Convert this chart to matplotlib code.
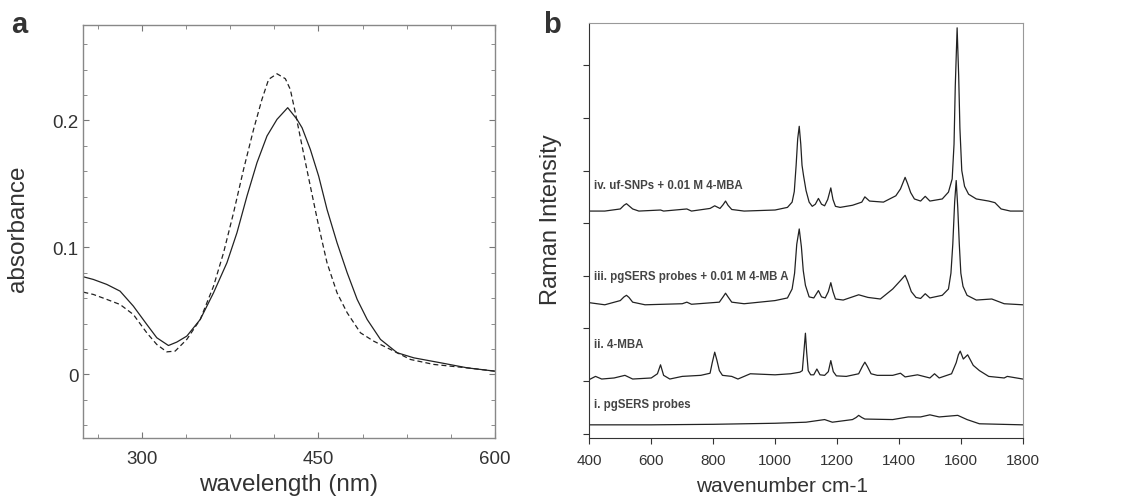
import numpy as np
import matplotlib.pyplot as plt
from matplotlib.ticker import MultipleLocator

plt.rcParams['font.family'] = ['Liberation Sans', 'DejaVu Sans']

# ---- panel a: UV-vis absorbance ----
wl_solid = [250.3, 258.8, 270.2, 281.5, 292.8, 304.2, 312.7, 322.6, 329.7, 338.2, 349.6,
            360.9, 372.3, 380.8, 389.3, 397.8, 406.3, 414.8, 423.9, 431.8, 436.1, 443.1,
            450.2, 457.3, 465.8, 474.4, 482.9, 491.4, 502.7, 516.9, 531, 553.8, 576.5, 600]
abs_solid = [0.0769, 0.0748, 0.0709, 0.0656, 0.0538, 0.0394, 0.0289, 0.0228, 0.0255, 0.0302,
             0.0433, 0.0643, 0.088, 0.1116, 0.1404, 0.1667, 0.1877, 0.2008, 0.210, 0.2008,
             0.1942, 0.1772, 0.1561, 0.1299, 0.1037, 0.0801, 0.0591, 0.0433, 0.0276, 0.0171,
             0.0131, 0.0092, 0.0052, 0.0026]

wl_dash = [250.3, 258.8, 270.2, 281.5, 292.8, 304.2, 312.7, 321.2, 328.3, 338.2, 349.6,
           360.9, 369.4, 377.9, 386.4, 394.9, 402, 407.7, 414.8, 421.9, 426.1, 430.4, 436.1,
           443.1, 450.2, 457.3, 465.8, 474.4, 485.7, 497, 511.2, 528.2, 548, 576.5, 600]
abs_dash = [0.0648, 0.063, 0.0591, 0.0551, 0.0472, 0.0328, 0.0236, 0.0178, 0.0184, 0.0276,
            0.0433, 0.0695, 0.0958, 0.1273, 0.1614, 0.1929, 0.2165, 0.2323, 0.2367, 0.2328,
            0.2244, 0.2060, 0.1798, 0.1483, 0.1168, 0.0879, 0.0643, 0.0486, 0.0328, 0.0262,
            0.0197, 0.0118, 0.0079, 0.0052, 0.0026]

# ---- panel b: Raman spectra (offset, arbitrary units) ----
wn_iv = [400, 450, 500, 512, 520, 528, 540, 560, 630, 640, 715, 730, 790, 805, 822, 832, 840,
         848, 860, 900, 1000, 1040, 1055, 1062, 1068, 1073, 1078, 1083, 1087, 1092, 1100, 1110,
         1120, 1130, 1140, 1150, 1160, 1170, 1180, 1187, 1195, 1210, 1250, 1280, 1290, 1305,
         1350, 1390, 1405, 1420, 1428, 1438, 1450, 1470, 1485, 1500, 1540, 1560, 1572, 1578,
         1582, 1588, 1593, 1597, 1603, 1612, 1625, 1650, 1690, 1710, 1730, 1760, 1800]
int_iv = [4.23, 4.23, 4.27, 4.34, 4.37, 4.33, 4.27, 4.23, 4.25, 4.23, 4.27, 4.23, 4.28, 4.33,
          4.28, 4.35, 4.42, 4.34, 4.26, 4.23, 4.25, 4.30, 4.40, 4.60, 5.10, 5.60, 5.84, 5.50,
          5.10, 4.90, 4.62, 4.40, 4.32, 4.36, 4.47, 4.36, 4.33, 4.45, 4.67, 4.45, 4.32, 4.30,
          4.34, 4.40, 4.50, 4.42, 4.40, 4.52, 4.65, 4.87, 4.75, 4.58, 4.46, 4.42, 4.51, 4.42,
          4.46, 4.59, 4.84, 5.50, 6.60, 7.71, 6.80, 5.80, 5.00, 4.70, 4.55, 4.46, 4.42, 4.39,
          4.27, 4.23, 4.23]

wn_iii = [400, 450, 500, 512, 520, 528, 540, 580, 700, 715, 730, 820, 832, 840, 848, 860, 900,
          1000, 1040, 1055, 1063, 1070, 1078, 1085, 1091, 1098, 1110, 1125, 1140, 1150, 1162,
          1172, 1180, 1187, 1195, 1220, 1270, 1300, 1340, 1380, 1405, 1420, 1428, 1440, 1455,
          1470, 1485, 1500, 1540, 1560, 1568, 1574, 1580, 1585, 1590, 1595, 1600, 1607, 1620,
          1650, 1700, 1740, 1800]
int_iii = [2.49, 2.45, 2.53, 2.60, 2.63, 2.59, 2.50, 2.45, 2.47, 2.50, 2.46, 2.50, 2.60, 2.67,
           2.60, 2.50, 2.47, 2.53, 2.58, 2.75, 3.05, 3.60, 3.89, 3.55, 3.10, 2.82, 2.60, 2.58,
           2.72, 2.60, 2.58, 2.70, 2.87, 2.70, 2.56, 2.54, 2.64, 2.59, 2.56, 2.75, 2.91, 3.01,
           2.90, 2.70, 2.59, 2.57, 2.66, 2.58, 2.63, 2.75, 3.05, 3.60, 4.40, 4.81, 4.30, 3.60,
           3.05, 2.80, 2.63, 2.54, 2.56, 2.47, 2.45]

wn_ii = [400, 420, 440, 480, 515, 540, 600, 620, 630, 640, 660, 700, 760, 790, 797, 805, 812,
         820, 830, 860, 880, 920, 1000, 1050, 1080, 1088, 1093, 1098, 1102, 1107, 1115, 1125,
         1135, 1145, 1160, 1172, 1180, 1188, 1198, 1230, 1270, 1282, 1290, 1298, 1310, 1330,
         1380, 1405, 1420, 1460, 1500, 1515, 1530, 1570, 1585, 1592, 1598, 1608, 1622, 1640,
         1660, 1690, 1740, 1750, 1800]
int_ii = [1.03, 1.09, 1.04, 1.06, 1.11, 1.04, 1.06, 1.14, 1.31, 1.11, 1.04, 1.09, 1.11, 1.15,
          1.35, 1.55, 1.40, 1.20, 1.11, 1.09, 1.04, 1.14, 1.12, 1.14, 1.17, 1.20, 1.55, 1.91,
          1.55, 1.20, 1.12, 1.12, 1.23, 1.12, 1.11, 1.18, 1.39, 1.18, 1.10, 1.09, 1.14, 1.28,
          1.36, 1.28, 1.14, 1.11, 1.11, 1.15, 1.08, 1.12, 1.06, 1.14, 1.06, 1.14, 1.35, 1.50,
          1.57, 1.42, 1.50, 1.30, 1.20, 1.09, 1.06, 1.09, 1.04]

wn_i = [400, 600, 800, 1000, 1100, 1160, 1185, 1250, 1262, 1270, 1280, 1290, 1380, 1430, 1470,
        1500, 1530, 1590, 1620, 1660, 1800]
int_i = [0.17, 0.17, 0.18, 0.20, 0.22, 0.27, 0.22, 0.27, 0.31, 0.35, 0.31, 0.28, 0.27, 0.32,
         0.32, 0.36, 0.32, 0.35, 0.27, 0.19, 0.17]

labels_b = ['i. pgSERS probes', 'ii. 4-MBA', 'iii. pgSERS probes + 0.01 M 4-MB A',
            'iv. uf-SNPs + 0.01 M 4-MBA']
label_y = [0.57, 1.71, 3.0, 4.72]

txt = '#333333'
line_c = '#222222'

fig = plt.figure(figsize=(11.32, 5.02), dpi=100)

# panel a
ax1 = fig.add_axes([0.0733, 0.1255, 0.364, 0.8225])
ax1.plot(wl_solid, abs_solid, color=line_c, lw=0.9)
ax1.plot(wl_dash, abs_dash, color=line_c, lw=0.9, ls=(0, (4, 2.5)))
ax1.set_xlim(250, 600)
ax1.set_ylim(-0.05, 0.275)
ax1.set_xticks([300, 450, 600])
ax1.xaxis.set_minor_locator(MultipleLocator(37.5))
ax1.set_yticks([0, 0.1, 0.2])
ax1.set_yticklabels(['0', '0.1', '0.2'])
ax1.yaxis.set_minor_locator(MultipleLocator(0.02))
ax1.tick_params(which='both', direction='in', top=True, right=True, color='#777777',
                labelsize=13.5, labelcolor=txt)
ax1.tick_params(which='major', length=4.5)
ax1.tick_params(which='minor', length=3)
ax1.tick_params(axis='x', pad=9)
ax1.tick_params(axis='y', pad=3)
for s in ax1.spines.values():
    s.set_color('#888888')
    s.set_linewidth(1.0)
ax1.set_xlabel('wavelength (nm)', fontsize=17.5, color=txt, labelpad=4)
ax1.set_ylabel('absorbance', fontsize=17.5, color=txt)
ax1.yaxis.set_label_coords(-0.131, 0.51)
fig.text(0.0097, 0.934, 'a', fontsize=21, fontweight='bold', color=txt)

# panel b
ax2 = fig.add_axes([0.5206, 0.1255, 0.3829, 0.8265])
for wn, it in [(wn_i, int_i), (wn_ii, int_ii), (wn_iii, int_iii), (wn_iv, int_iv)]:
    ax2.plot(wn, it, color=line_c, lw=0.9)
for lab, ly in zip(labels_b, label_y):
    ax2.text(415, ly, lab, fontsize=8.3, fontweight='bold', color='#444444', va='center')
ax2.set_xlim(400, 1800)
ax2.set_ylim(-0.08, 7.8)
ax2.set_xticks(np.arange(400, 1801, 200))
ax2.set_yticks(np.arange(0, 8, 1))
ax2.set_yticklabels([])
ax2.tick_params(direction='out', length=4.5, color='#333333', labelsize=11,
                labelcolor=txt, pad=6)
ax2.spines['left'].set_color('#333333')
ax2.spines['bottom'].set_color('#333333')
ax2.spines['top'].set_color('#999999')
ax2.spines['right'].set_color('#999999')
ax2.set_xlabel('wavenumber cm-1', fontsize=15, color=txt)
ax2.xaxis.set_label_coords(0.4446, -0.092)
ax2.set_ylabel('Raman Intensity', fontsize=17, color=txt)
ax2.yaxis.set_label_coords(-0.063, 0.528)
fig.text(0.4797, 0.934, 'b', fontsize=21, fontweight='bold', color=txt)

fig.savefig('out.png', dpi=100)
